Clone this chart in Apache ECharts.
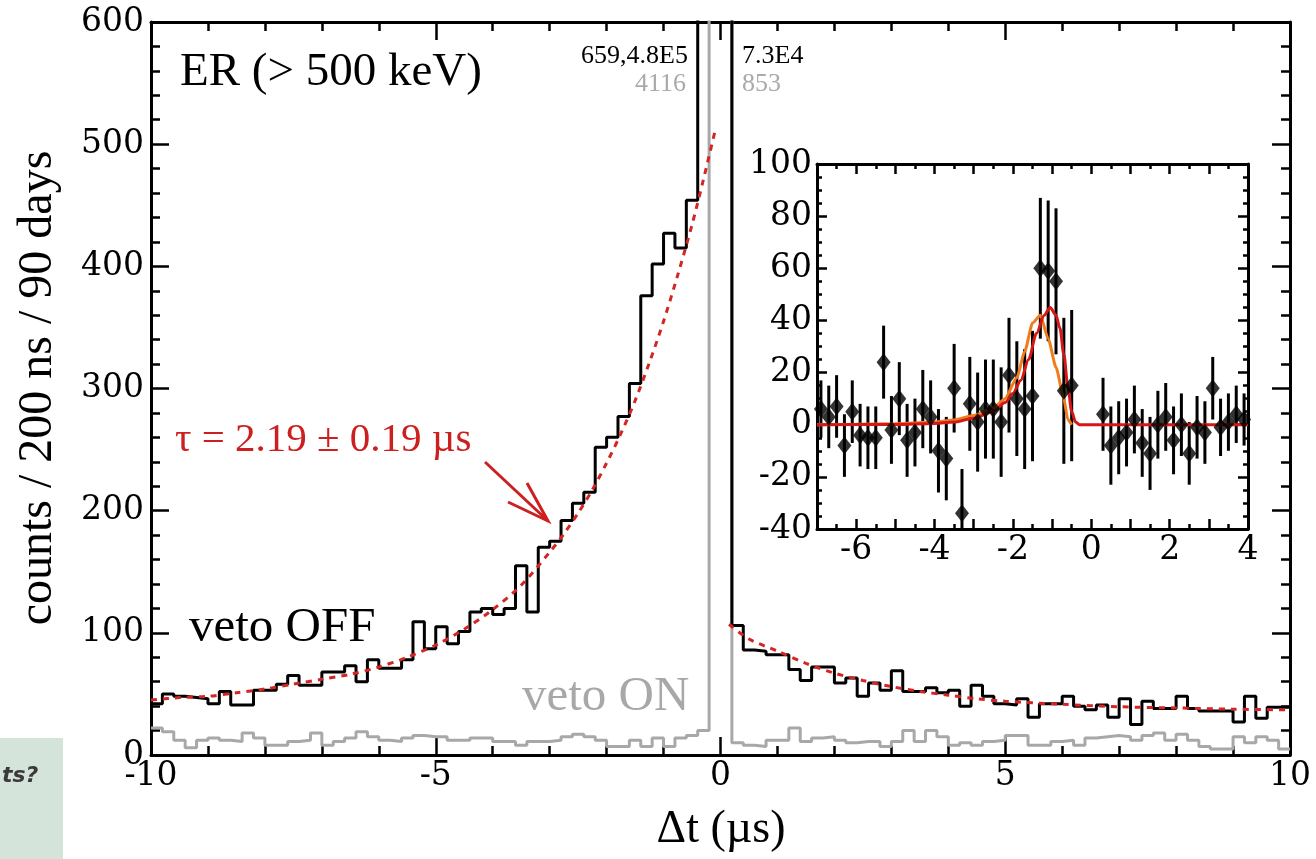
<!DOCTYPE html>
<html>
<head>
<meta charset="utf-8">
<script src="https://cdn.jsdelivr.net/npm/echarts/dist/echarts.min.js"></script>
<style>
  html, body { margin: 0; padding: 0; background: #fff; }
  #chart { width: 1316px; height: 859px; }
</style>
</head>
<body>
<div id="chart"></div>
<script>
var myChart = echarts.init(document.getElementById('chart')); //主图

// 直方图: 200 ns bins, -10 .. 10 us
var binLeft = -10;
var binWidth = 0.2;
var vetoOff = [
  42, 50, 48, 47, 46, 42, 52, 41, 41, 53, 53, 58, 65, 57, 57, 68, 68, 73, 60, 78, 71, 71, 78, 109, 87,
  105, 91, 101, 117, 120, 115, 120, 155, 117, 170, 175, 192, 206, 215, 252, 260, 277, 304, 376, 402, 427, 415, 454,
  659, 480000, 73000,
  106, 86, 85, 82, 82, 70, 61, 72, 72, 59, 63, 48, 59, 53, 69, 52, 52, 55, 51, 53, 40, 57, 48, 42, 41,
  46, 31, 42, 42, 48, 40, 37, 41, 31, 46, 25, 44, 38, 38, 48, 38, 36, 36, 36, 27, 48, 30, 39, 39
];
var vetoOn = [
  22, 19, 12, 6, 12, 14, 12, 11, 18, 14, 8, 8, 11, 12, 18, 8, 11, 14, 19, 15, 12, 11, 14, 16, 15,
  15, 12, 12, 14, 14, 11, 11, 8, 11, 11, 12, 15, 17, 15, 12, 7, 7, 12, 7, 14, 7, 14, 16, 20,
  4116, 853,
  10, 8, 7, 12, 12, 22, 11, 14, 15, 12, 10, 11, 11, 7, 11, 20, 11, 20, 15, 8, 10, 8, 11, 12, 16, 16,
  8, 8, 11, 12, 8, 14, 15, 16, 15, 12, 16, 18, 12, 17, 12, 7, 5, 5, 15, 10, 15, 12, 5
];

// 拟合曲线
var fitLeftT = [-10, -9.5, -9, -8.5, -8, -7.5, -7, -6.5, -6, -5.5, -5, -4.5, -4, -3.5, -3, -2.75, -2.5, -2.25, -2,
  -1.75, -1.5, -1.25, -1, -0.75, -0.5, -0.3, -0.1];
var fitLeftV = [45, 47, 48, 51, 54, 58, 62, 66, 72, 80, 90, 103, 119, 139, 166, 181, 198, 217, 239,
  263, 290, 321, 355, 393, 434, 471, 510];
var fitRightT = [0.15, 0.5, 1, 1.5, 2, 2.5, 3, 3.5, 4, 4.5, 5, 6, 7, 8, 9, 10];
var fitRightV = [107, 95, 85, 75, 67, 61, 56, 52, 49, 46, 44, 41.5, 39.5, 38.5, 37.5, 37];

// 小图数据点
var insetT = [-6.9, -6.7, -6.5, -6.3, -6.1, -5.9, -5.7, -5.5, -5.3, -5.1, -4.9, -4.7, -4.5, -4.3, -4.1, -3.9, -3.7,
  -3.5, -3.3, -3.1, -2.9, -2.7, -2.5, -2.3, -2.1, -1.9, -1.7, -1.5, -1.3, -1.1, -0.9, -0.7, -0.5,
  0.3, 0.5, 0.7, 0.9, 1.1, 1.3, 1.5, 1.7, 1.9, 2.1, 2.3, 2.5, 2.7, 2.9, 3.1, 3.3, 3.5, 3.7, 3.9];
var insetV = [6, 3, 7, -8, 5, -4, -5, -5, 24, -2, 10, -6, -3, 6, 3, -10, -13,
  14, -34, 8, 1, 6, 6, 1, 19, 10, 6, 11, 60, 59, 55, 13, 15,
  4, -8, -5, -3, 2, -7, -11, 0, 3, -6, 0, -11, -1, -3, 14, -1, 1, 4, 2];
var insetErr = [11, 12, 12, 12, 12, 12, 12, 12, 14, 13, 14, 14, 13, 15, 14, 16, 16,
  17, 17, 18, 19, 19, 19, 21, 22, 22, 23, 25, 27, 27, 28, 28, 29,
  14, 15, 14, 13, 13, 13, 14, 13, 13, 13, 12, 12, 12, 12, 12, 11, 11, 11, 10];

// 小图拟合曲线
var redT = [-7, -5, -4, -3.5, -3, -2.5, -2.2, -2, -1.8, -1.6, -1.4, -1.2, -1.05, -0.9, -0.8, -0.7, -0.6, -0.5, -0.4, -0.3, 4];
var redV = [0, 0.1, 0.5, 1, 2.5, 5, 8.5, 12, 17, 25, 35, 42, 45, 42, 37, 27, 15, 5, 1, 0, 0];
var orangeT = [-7, -6, -5, -4, -3.5, -3, -2.5, -2.2, -1.9, -1.7, -1.5, -1.3, -1.1, -0.9, -0.7, -0.6, -0.5];
var orangeV = [0, 0.2, 0.4, 1, 1.8, 3.5, 6.5, 10, 18, 28, 39, 42, 33, 22, 10, 2, 0];

function histData(vals) {
  var out = [];
  for (var i = 0; i < vals.length; i++) {
    out.push([binLeft + binWidth * i, vals[i]]);
  }
  out.push([binLeft + binWidth * vals.length, vals[vals.length - 1]]);
  return out;
}
function pairs(xs, ys) {
  return xs.map(function (x, i) { return [x, ys[i]]; });
}

var tickFont = 'DejaVu Serif';
var tickSize = 33;
var blackLine = { color: '#000', width: 3 };
var tickLine = { color: '#000', width: 2.5 };

function frameAxis(extra) {
  var ax = {
    type: 'value',
    axisLine: { show: true, onZero: false, lineStyle: blackLine },
    axisTick: { show: true, inside: true, length: 18, lineStyle: tickLine },
    minorTick: { show: true, splitNumber: 5, length: 9, lineStyle: tickLine },
    splitLine: { show: false },
    minorSplitLine: { show: false },
    axisLabel: { show: false }
  };
  for (var k in extra) { ax[k] = extra[k]; }
  return ax;
}
function tickLabel(margin, fmt) {
  var l = { show: true, color: '#000', fontFamily: tickFont, fontSize: tickSize, margin: margin };
  if (fmt) { l.formatter = fmt; }
  return l;
}
var insetTick = { show: true, inside: true, length: 10, lineStyle: tickLine };

var option = {
  animation: false,
  backgroundColor: '#fff',
  grid: [
    { left: 151, top: 22, width: 1139, height: 733 },
    { left: 817, top: 164, width: 431, height: 365, show: true, backgroundColor: '#fff', borderWidth: 0 }
  ],
  xAxis: [
    frameAxis({ gridIndex: 0, min: -10, max: 10, interval: 5, position: 'bottom', axisLabel: tickLabel(5) }),
    frameAxis({ gridIndex: 0, min: -10, max: 10, interval: 5, position: 'top' }),
    frameAxis({ gridIndex: 1, min: -7, max: 4, interval: 1, position: 'bottom',
      axisTick: insetTick,
      minorTick: { show: true, splitNumber: 2, length: 5, lineStyle: tickLine },
      axisLabel: tickLabel(5, function (v) { return v % 2 === 0 ? String(v) : ''; }) }),
    frameAxis({ gridIndex: 1, min: -7, max: 4, interval: 1, position: 'top',
      axisTick: insetTick,
      minorTick: { show: true, splitNumber: 2, length: 5, lineStyle: tickLine } })
  ],
  yAxis: [
    frameAxis({ gridIndex: 0, min: 0, max: 600, interval: 100, position: 'left', axisLabel: tickLabel(7) }),
    frameAxis({ gridIndex: 0, min: 0, max: 600, interval: 100, position: 'right' }),
    frameAxis({ gridIndex: 1, min: -40, max: 100, interval: 20, position: 'left',
      axisTick: insetTick,
      minorTick: { show: true, splitNumber: 4, length: 5, lineStyle: tickLine },
      axisLabel: tickLabel(5) }),
    frameAxis({ gridIndex: 1, min: -40, max: 100, interval: 20, position: 'right',
      axisTick: insetTick,
      minorTick: { show: true, splitNumber: 4, length: 5, lineStyle: tickLine } })
  ],
  series: [
    {
      name: 'veto ON', type: 'line', xAxisIndex: 0, yAxisIndex: 0,
      step: 'end', symbol: 'none', clip: true, silent: true, z: 2,
      lineStyle: { color: '#a8a8a8', width: 3 },
      data: histData(vetoOn)
    },
    {
      name: 'veto OFF', type: 'line', xAxisIndex: 0, yAxisIndex: 0,
      step: 'end', symbol: 'none', clip: true, silent: true, z: 3,
      lineStyle: { color: '#000', width: 3 },
      data: histData(vetoOff)
    },
    {
      name: 'fit left', type: 'line', xAxisIndex: 0, yAxisIndex: 0,
      smooth: 0.3, symbol: 'none', clip: true, silent: true, z: 4,
      lineStyle: { color: '#d42525', width: 3, type: [6, 6] },
      data: pairs(fitLeftT, fitLeftV)
    },
    {
      name: 'fit right', type: 'line', xAxisIndex: 0, yAxisIndex: 0,
      smooth: 0.3, symbol: 'none', clip: true, silent: true, z: 4,
      lineStyle: { color: '#d42525', width: 3, type: [6, 6] },
      data: pairs(fitRightT, fitRightV)
    },
    {
      name: 'err', type: 'custom', xAxisIndex: 2, yAxisIndex: 2, silent: true, z: 5,
      renderItem: function (params, api) {
        var p1 = api.coord([api.value(0), api.value(1)]);
        var p2 = api.coord([api.value(0), api.value(2)]);
        var cs = params.coordSys;
        return {
          type: 'line',
          shape: { x1: p1[0], y1: p1[1], x2: p2[0], y2: p2[1] },
          style: { stroke: '#000', lineWidth: 3 },
          clipPath: { type: 'rect', shape: { x: cs.x, y: cs.y, width: cs.width, height: cs.height } }
        };
      },
      data: insetT.map(function (t, i) { return [t, insetV[i] - insetErr[i], insetV[i] + insetErr[i]]; })
    },
    {
      name: 'orange', type: 'line', xAxisIndex: 2, yAxisIndex: 2,
      smooth: 0.2, smoothMonotone: 'x', symbol: 'none', silent: true, z: 6,
      lineStyle: { color: '#f07c1c', width: 3 },
      data: pairs(orangeT, orangeV)
    },
    {
      name: 'red', type: 'line', xAxisIndex: 2, yAxisIndex: 2,
      smooth: 0.3, smoothMonotone: 'x', symbol: 'none', silent: true, z: 7,
      lineStyle: { color: '#d41818', width: 3 },
      data: pairs(redT, redV)
    },
    {
      name: 'points', type: 'scatter', xAxisIndex: 2, yAxisIndex: 2, silent: true, z: 8,
      symbol: 'diamond', symbolSize: [14, 18],
      itemStyle: { color: '#000' },
      data: pairs(insetT, insetV)
    }
  ],
  graphic: [
    { type: 'rect', shape: { x: 0, y: 738, width: 63, height: 121 }, style: { fill: '#d4e4da' }, z: 0 },
    { type: 'text', x: 2, y: 776, style: { text: 'ts?', font: 'italic bold 22px "DejaVu Sans"', fill: '#3a3a3a', verticalAlign: 'middle' } },
    { type: 'text', x: 38, y: 388, rotation: Math.PI / 2,
      style: { text: 'counts / 200 ns / 90 days', font: '48px "Liberation Serif"', fill: '#000', align: 'center', verticalAlign: 'middle' } },
    { type: 'text', x: 721, y: 830,
      style: { text: 'Δt (µs)', font: '46px "Liberation Serif"', fill: '#000', align: 'center', verticalAlign: 'middle' } },
    { type: 'text', x: 180, y: 73, z: 20,
      style: { text: 'ER (> 500 keV)', font: '47px "Liberation Serif"', fill: '#000', verticalAlign: 'middle' } },
    { type: 'text', x: 189, y: 628, z: 20,
      style: { text: 'veto OFF', font: '49px "Liberation Serif"', fill: '#000', verticalAlign: 'middle' } },
    { type: 'text', x: 522, y: 697, z: 20,
      style: { text: 'veto ON', font: '49px "Liberation Serif"', fill: '#a8a8a8', verticalAlign: 'middle' } },
    { type: 'text', x: 175, y: 440, z: 20,
      style: { text: 'τ = 2.19 ± 0.19 µs', font: '41px "Liberation Serif"', fill: '#cc2020', verticalAlign: 'middle' } },
    { type: 'polyline', z: 20, shape: { points: [[485, 462], [547, 520]] },
      style: { stroke: '#cc2020', lineWidth: 3, fill: null } },
    { type: 'polyline', z: 20, shape: { points: [[527, 483], [548, 521], [508, 502]] },
      style: { stroke: '#cc2020', lineWidth: 3, fill: null } },
    { type: 'text', x: 688, y: 56, z: 20,
      style: { text: '659,4.8E5', font: '26px "Liberation Serif"', fill: '#000', align: 'right', verticalAlign: 'middle' } },
    { type: 'text', x: 686, y: 84, z: 20,
      style: { text: '4116', font: '26px "Liberation Serif"', fill: '#aaaaaa', align: 'right', verticalAlign: 'middle' } },
    { type: 'text', x: 742, y: 56, z: 20,
      style: { text: '7.3E4', font: '26px "Liberation Serif"', fill: '#000', verticalAlign: 'middle' } },
    { type: 'text', x: 742, y: 84, z: 20,
      style: { text: '853', font: '26px "Liberation Serif"', fill: '#aaaaaa', verticalAlign: 'middle' } }
  ]
};

myChart.setOption(option);
</script>
</body>
</html>
